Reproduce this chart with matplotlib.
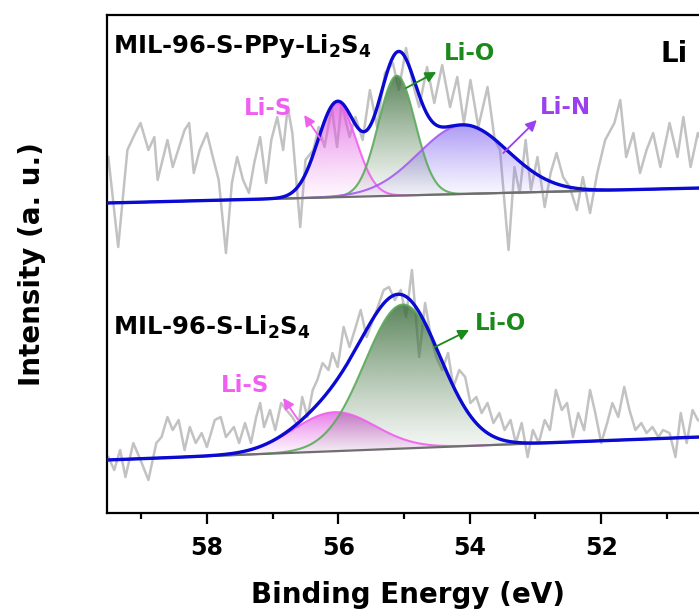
import numpy as np
import matplotlib
matplotlib.use("Agg")
import matplotlib.pyplot as plt
from matplotlib.colors import to_rgb
from matplotlib.ticker import MultipleLocator

plt.rcParams["font.family"] = ["DejaVu Sans"]
plt.rcParams["font.weight"] = "bold"
plt.rcParams["mathtext.fontset"] = "custom"
plt.rcParams["mathtext.rm"] = "DejaVu Sans:bold"
plt.rcParams["mathtext.bf"] = "DejaVu Sans:bold"
plt.rcParams["mathtext.it"] = "DejaVu Sans:bold"

# ---- measured Li 1s spectra (binding energy in eV, intensity in a.u., stacked) ----
ppy_energy = [59.50, 59.35, 59.21, 59.09, 59.01, 58.89, 58.80, 58.75, 58.60, 58.52,
              58.34, 58.27, 58.20, 58.11, 58.00, 57.91, 57.82, 57.71, 57.62, 57.54,
              57.45, 57.36, 57.28, 57.19, 57.10, 57.02, 56.93, 56.84, 56.77, 56.70,
              56.58, 56.50, 56.38, 56.30, 56.21, 56.10, 56.02, 55.95, 55.83, 55.74,
              55.63, 55.52, 55.41, 55.29, 55.17, 55.08, 54.97, 54.87, 54.77, 54.65,
              54.54, 54.42, 54.30, 54.19, 54.09, 53.99, 53.87, 53.73, 53.62, 53.54,
              53.41, 53.32, 53.24, 53.15, 53.07, 52.97, 52.86, 52.77, 52.68, 52.58,
              52.48, 52.37, 52.28, 52.17, 52.06, 51.94, 51.80, 51.71, 51.62, 51.51,
              51.41, 51.31, 51.21, 51.10, 50.96, 50.84, 50.75, 50.64, 50.53, 50.40]
ppy_counts = [356, 266, 363, 380, 390, 363, 376, 333, 373, 346,
              383, 390, 340, 363, 380, 356, 333, 260, 330, 356,
              333, 320, 350, 376, 330, 373, 396, 363, 406, 380,
              286, 353, 363, 386, 366, 406, 366, 410, 376, 396,
              373, 423, 386, 440, 450, 423, 465, 430, 406, 446,
              410, 448, 406, 436, 390, 433, 386, 426, 373, 363,
              263, 346, 320, 373, 323, 356, 306, 340, 360, 336,
              326, 303, 336, 300, 340, 373, 390, 413, 356, 380,
              340, 363, 380, 346, 390, 356, 396, 346, 380, 360]

bare_energy = [59.50, 59.41, 59.32, 59.24, 59.12, 59.01, 58.89, 58.77, 58.69, 58.60,
               58.52, 58.43, 58.34, 58.26, 58.17, 58.08, 58.00, 57.88, 57.79, 57.71,
               57.59, 57.51, 57.42, 57.33, 57.25, 57.19, 57.13, 57.04, 56.96, 56.87,
               56.79, 56.70, 56.61, 56.55, 56.47, 56.39, 56.32, 56.24, 56.15, 56.09,
               56.01, 55.92, 55.83, 55.75, 55.66, 55.57, 55.49, 55.40, 55.31, 55.23,
               55.14, 55.05, 54.97, 54.88, 54.82, 54.77, 54.68, 54.59, 54.51, 54.42,
               54.33, 54.25, 54.16, 54.07, 53.99, 53.90, 53.82, 53.73, 53.64, 53.55,
               53.47, 53.38, 53.30, 53.21, 53.12, 53.04, 52.95, 52.86, 52.78, 52.69,
               52.60, 52.52, 52.43, 52.35, 52.26, 52.17, 52.09, 52.00, 51.91, 51.83,
               51.74, 51.65, 51.57, 51.48, 51.39, 51.31, 51.22, 51.13, 51.06, 50.96,
               50.87, 50.79, 50.70, 50.61, 50.53, 50.40]
bare_counts = [56, 43, 63, 36, 70, 53, 33, 70, 76, 96,
               83, 93, 63, 86, 70, 80, 66, 93, 96, 76,
               86, 70, 90, 70, 96, 110, 86, 103, 83, 110,
               103, 96, 86, 116, 96, 123, 133, 150, 143, 160,
               146, 186, 166, 183, 203, 176, 190, 206, 223, 226,
               213, 223, 196, 243, 196, 156, 210, 176, 156, 143,
               160, 126, 143, 136, 110, 116, 100, 110, 90, 100,
               83, 93, 70, 90, 56, 83, 70, 93, 83, 123,
               103, 110, 76, 100, 83, 123, 100, 70, 90, 110,
               96, 126, 103, 83, 90, 80, 86, 76, 83, 80,
               56, 100, 70, 103, 93, 88]

# ---- fitted components: linear background (two end points) + Gaussian peaks ----
ppy_bg_energy = [50.51, 59.52]
ppy_bg_counts = [325, 310]
bare_bg_energy = [50.51, 59.52]
bare_bg_counts = [76, 53]

peak_names = ["Li-S", "Li-O", "Li-N"]
ppy_centers = [56.02, 55.11, 54.10]
ppy_heights = [94, 120, 69]
ppy_sigmas = [0.29, 0.28, 0.68]

bare_names = ["Li-S", "Li-O"]
bare_centers = [56.06, 55.02]
bare_heights = [39, 144]
bare_sigmas = [0.62, 0.58]

line_colors = {"Li-S": "#f060f0", "Li-O": "#5caa5c", "Li-N": "#a45cf0"}
fill_colors = {"Li-S": "#e050e0", "Li-O": "#3c6e3c", "Li-N": "#8468f0"}
fill_alpha = {"Li-S": 0.7, "Li-O": 0.8, "Li-N": 0.62}
label_colors = {"Li-S": "#f060f0", "Li-O": "#1a8a1a", "Li-N": "#9a40f0"}

fig = plt.figure(figsize=(6.99, 6.13), dpi=100)
ax = fig.add_axes([0.1531, 0.1631, 0.8612, 0.8124])

E = np.linspace(50.2, 59.7, 1200)


def gauss(x, c, h, s):
    return h * np.exp(-0.5 * ((x - c) / s) ** 2)


def draw_fit(bg_e, bg_c, names, centers, heights, sigmas):
    bg = np.interp(E, bg_e, bg_c)
    total = bg.copy()
    for name, c, h, s in zip(names, centers, heights, sigmas):
        g = gauss(E, c, h, s)
        total += g
        comp = bg + g
        mask = g > 0.3
        poly = ax.fill_between(E[mask], bg[mask], comp[mask], facecolor="none",
                               edgecolor="none")
        rgb = np.array(to_rgb(fill_colors[name]))
        grad = np.zeros((256, 1, 4))
        t = np.linspace(0, 1, 256)
        grad[:, 0, :3] = rgb
        grad[:, 0, 3] = 0.04 + fill_alpha[name] * t ** 1.2
        ybot = bg[mask].min()
        ytop = comp[mask].max()
        im = ax.imshow(grad, extent=[E[mask].min(), E[mask].max(), ybot, ytop],
                       origin="lower", aspect="auto", zorder=2, interpolation="bilinear")
        im.set_clip_path(poly.get_paths()[0], transform=ax.transData)
        ax.plot(E, comp, color=line_colors[name], lw=1.5, zorder=3, alpha=0.9)
    ax.plot(E, bg, color="#6e6e6e", lw=1.6, zorder=3)
    ax.plot(E, total, color="#0a0ad2", lw=2.4, zorder=5)


ax.plot(ppy_energy, ppy_counts, color="#c2c2c2", lw=1.8, zorder=1)
ax.plot(bare_energy, bare_counts, color="#c2c2c2", lw=1.8, zorder=1)
draw_fit(ppy_bg_energy, ppy_bg_counts, peak_names, ppy_centers, ppy_heights, ppy_sigmas)
draw_fit(bare_bg_energy, bare_bg_counts, bare_names, bare_centers, bare_heights, bare_sigmas)

# sample labels
ax.text(59.43, 460, r"MIL-96-S-PPy-Li$_\mathbf{2}$S$_\mathbf{4}$", fontsize=17.5,
        fontweight="bold", ha="left", va="baseline", color="black")
ax.text(59.43, 178, r"MIL-96-S-Li$_\mathbf{2}$S$_\mathbf{4}$", fontsize=17.5,
        fontweight="bold", ha="left", va="baseline", color="black")
ax.text(51.10, 451, "Li", fontsize=20, fontweight="bold", ha="left",
        va="baseline", color="black")

# component labels with arrows
labels = [
    ("Li-S", 57.07, 405, (56.26, 373), (56.52, 398)),
    ("Li-O", 54.00, 460, (54.97, 425), (54.51, 441)),
    ("Li-N", 52.55, 406, (53.49, 360), (52.98, 393)),
    ("Li-S", 57.42, 128, (56.61, 93), (56.84, 115)),
    ("Li-O", 53.54, 190, (54.53, 166), (54.01, 183)),
]
for name, tx, ty, start, end in labels:
    ax.text(tx, ty, name, color=label_colors[name], fontsize=16.5, fontweight="bold",
            ha="center", va="center", zorder=6)
    ax.annotate("", xy=end, xytext=start,
                arrowprops=dict(arrowstyle="-|>", color=label_colors[name], lw=1.3,
                                mutation_scale=16, shrinkA=0, shrinkB=0), zorder=6)

ax.set_xlim(59.52, 50.36)
ax.set_ylim(0, 498)
ax.xaxis.set_major_locator(MultipleLocator(2))
ax.xaxis.set_minor_locator(MultipleLocator(1))
ax.tick_params(axis="x", which="major", direction="out", length=8, width=1.6,
               labelsize=17, pad=8.5)
ax.tick_params(axis="x", which="minor", direction="out", length=4.5, width=1.6)
ax.set_yticks([])
for lab in ax.get_xticklabels():
    lab.set_fontweight("bold")
for sp in ax.spines.values():
    sp.set_linewidth(1.6)

ax.set_xlabel("Binding Energy (eV)", fontsize=20, fontweight="bold", labelpad=15)
ax.set_ylabel("Intensity (a. u.)", fontsize=20, fontweight="bold", labelpad=44)

fig.savefig("out.png", dpi=100)
